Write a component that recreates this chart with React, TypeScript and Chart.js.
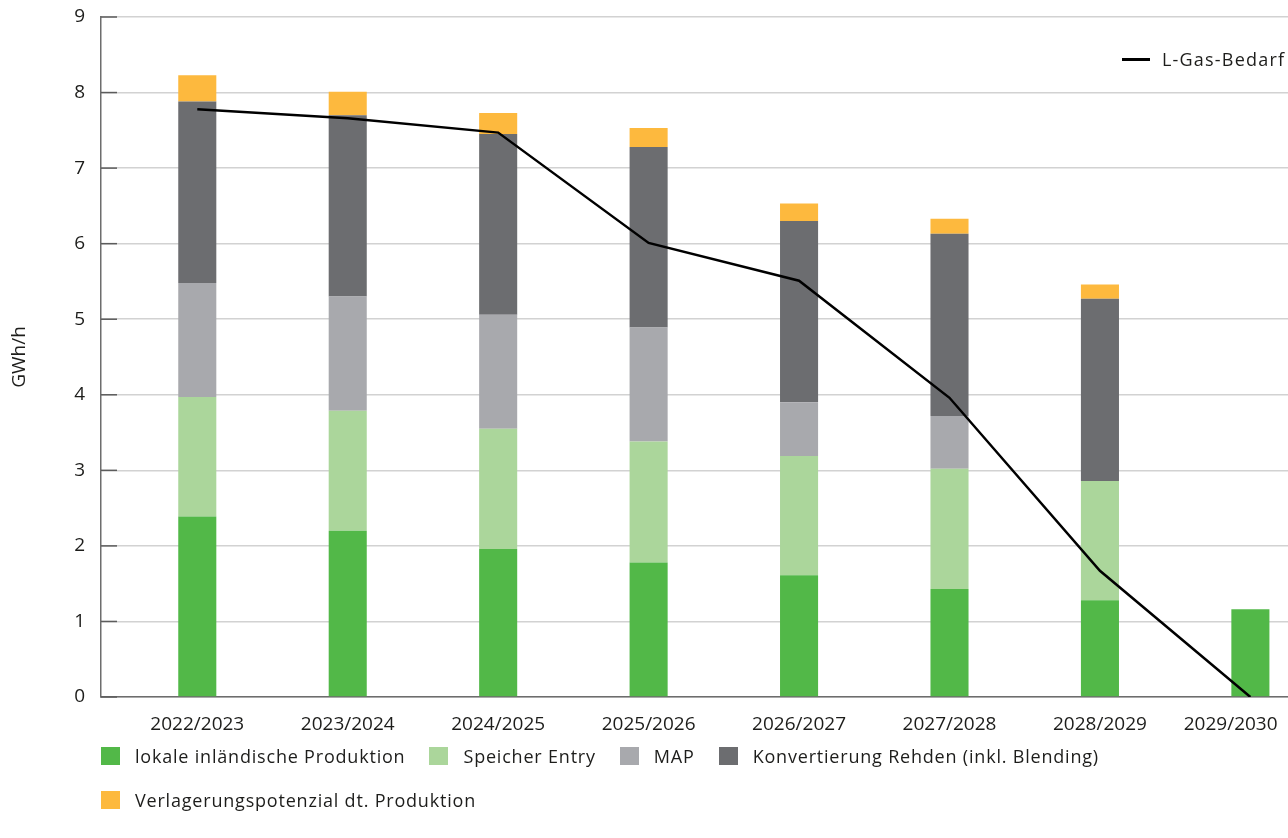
import React, { useEffect, useRef } from 'react';
import { Chart, registerables } from 'chart.js';

Chart.register(...registerables);

// Gas years on the x axis
const categories = [
  '2022/2023',
  '2023/2024',
  '2024/2025',
  '2025/2026',
  '2026/2027',
  '2027/2028',
  '2028/2029',
  '2029/2030',
];

// Stacked supply components (GWh/h)
const lokaleProduktion = [2.39, 2.2, 1.96, 1.78, 1.61, 1.43, 1.28, 1.16];
const speicherEntry = [1.58, 1.59, 1.59, 1.6, 1.58, 1.59, 1.58, 0];
const mapValues = [1.51, 1.51, 1.51, 1.51, 0.71, 0.7, 0, 0];
const konvertierungRehden = [2.4, 2.4, 2.39, 2.39, 2.4, 2.41, 2.41, 0];
const verlagerungspotenzial = [0.35, 0.31, 0.28, 0.25, 0.23, 0.2, 0.19, 0];

// Demand line (GWh/h)
const lGasBedarf = [7.78, 7.66, 7.47, 6.01, 5.51, 3.96, 1.67, 0];

// Y axis ticks
const yTicks = [0, 1, 2, 3, 4, 5, 6, 7, 8, 9];

const barSeries = [
  { label: 'lokale inländische Produktion', data: lokaleProduktion, color: '#52b848' },
  { label: 'Speicher Entry', data: speicherEntry, color: '#abd69b' },
  { label: 'MAP', data: mapValues, color: '#a8a9ad' },
  { label: 'Konvertierung Rehden (inkl. Blending)', data: konvertierungRehden, color: '#6c6d70' },
  { label: 'Verlagerungspotenzial dt. Produktion', data: verlagerungspotenzial, color: '#fdb93e' },
];

const lineLabel = 'L-Gas-Bedarf';

const FONT = '"Open Sans", "DejaVu Sans", sans-serif';
const TEXT = '#1d1d1b';

// Short dark tick marks drawn inward from the y axis
const innerTicks = {
  id: 'innerTicks',
  afterDatasetsDraw(chart: any) {
    const { ctx, chartArea, scales } = chart;
    const y = scales.y;
    ctx.save();
    ctx.strokeStyle = '#5c5c5c';
    ctx.lineWidth = 1.5;
    y.ticks.forEach((t: any) => {
      const py = y.getPixelForValue(t.value);
      ctx.beginPath();
      ctx.moveTo(chartArea.left, py);
      ctx.lineTo(chartArea.left + 16, py);
      ctx.stroke();
    });
    ctx.restore();
  },
};

// Axes should not reserve extra room for overhanging labels
const noLabelPadding = (scale: any) => {
  scale.paddingTop = 0;
  scale.paddingBottom = 0;
  scale.paddingLeft = 0;
  scale.paddingRight = 0;
};

export default function App() {
  const canvasRef = useRef<HTMLCanvasElement | null>(null);

  useEffect(() => {
    if (!canvasRef.current) return;
    const datasets: any[] = barSeries.map((s) => ({
      type: 'bar',
      label: s.label,
      data: s.data.map((v, i) => ({ x: i, y: v })),
      backgroundColor: s.color,
      borderWidth: 0,
      categoryPercentage: 1,
      barPercentage: 0.253,
      order: 1,
    }));
    datasets.push({
      type: 'line',
      label: lineLabel,
      data: lGasBedarf.map((v, i) => ({ x: i, y: v })),
      borderColor: '#000000',
      borderWidth: 2.5,
      pointRadius: 0,
      tension: 0,
      fill: false,
      order: 0,
    });

    const chart = new Chart(canvasRef.current, {
      type: 'bar',
      data: { datasets },
      plugins: [innerTicks],
      options: {
        animation: false,
        responsive: false,
        layout: {
          autoPadding: false,
          padding: { top: 17, right: 0, bottom: 101, left: 0 },
        },
        plugins: {
          legend: { display: false },
          tooltip: { enabled: false },
        },
        scales: {
          x: {
            type: 'linear',
            stacked: true,
            offset: false,
            min: -0.64,
            max: 7.25,
            grid: { display: false, drawTicks: false, offset: false },
            border: { color: '#6d6d6d', width: 1.5 },
            afterBuildTicks: (scale: any) => {
              scale.ticks = categories.map((_, i) => ({ value: i }));
            },
            afterFit: (scale: any) => {
              scale.height = 40;
              noLabelPadding(scale);
            },
            ticks: {
              autoSkip: false,
              maxRotation: 0,
              padding: 16,
              color: TEXT,
              font: { family: FONT, size: 19 },
              // trailing spaces keep the last label inside the canvas
              callback: (v: any) => {
                const i = Math.round(Number(v));
                const label = categories[i] ?? '';
                return i === categories.length - 1 ? label + '\u00a0'.repeat(8) : label;
              },
            },
          },
          y: {
            stacked: true,
            min: 0,
            max: 9,
            afterBuildTicks: (scale: any) => {
              scale.ticks = yTicks.map((v) => ({ value: v }));
            },
            afterFit: (scale: any) => {
              scale.width = 101;
              noLabelPadding(scale);
            },
            grid: { color: '#d2d2d2', lineWidth: 1.5, drawTicks: false },
            border: { color: '#6d6d6d', width: 1.5 },
            ticks: {
              padding: 16,
              color: TEXT,
              font: { family: FONT, size: 19 },
            },
            title: {
              display: true,
              text: 'GWh/h',
              color: TEXT,
              padding: { top: 8, bottom: 0 },
              font: { family: FONT, size: 19 },
            },
          },
        },
      },
    });
    return () => chart.destroy();
  }, []);

  const legendText: React.CSSProperties = {
    fontFamily: FONT,
    fontSize: 18,
    letterSpacing: '0.8px',
    color: TEXT,
    lineHeight: '26px',
    whiteSpace: 'nowrap',
  };

  return (
    <div style={{ position: 'absolute', left: 0, top: 0, width: 1288, height: 838, overflow: 'hidden', background: '#fff' }}>
      <canvas ref={canvasRef} width={1288} height={838} style={{ display: 'block' }} />
      {/* demand line legend, top right */}
      <div style={{ position: 'absolute', left: 1122, top: 46, display: 'flex', alignItems: 'center' }}>
        <div style={{ width: 28, height: 3, background: '#000', marginRight: 12 }} />
        <span style={{ ...legendText, letterSpacing: '1.2px' }}>{lineLabel}</span>
      </div>
      {/* stacked series legend, bottom */}
      <div
        style={{
          position: 'absolute',
          left: 101,
          top: 743,
          width: 1187,
          display: 'flex',
          flexWrap: 'wrap',
          rowGap: 18,
        }}
      >
        {barSeries.map((s) => (
          <div key={s.label} style={{ display: 'flex', alignItems: 'center', marginRight: 24 }}>
            <div style={{ width: 19, height: 18, background: s.color, marginRight: 15 }} />
            <span style={legendText}>{s.label}</span>
          </div>
        ))}
      </div>
    </div>
  );
}
